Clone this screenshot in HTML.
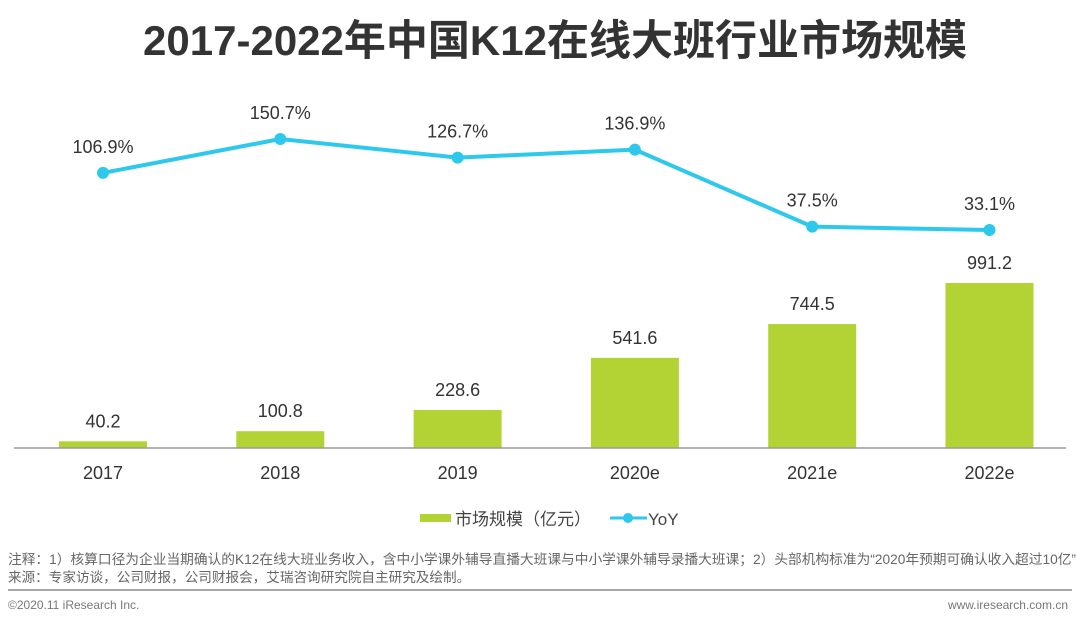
<!DOCTYPE html>
<html><head><meta charset="utf-8"><style>
body{margin:0;background:#fff;width:1080px;height:625px;overflow:hidden;font-family:"Liberation Sans","Noto Sans CJK SC",sans-serif}
</style></head><body>
<svg width="1080" height="625" xmlns="http://www.w3.org/2000/svg">
<text x="555" y="55" text-anchor="middle" font-size="42" font-weight="bold" fill="#333" font-family="Liberation Sans,Noto Sans CJK SC,sans-serif">2017-2022年中国K12在线大班行业市场规模</text>
<g id="bars"></g><g id="line"></g>
<line x1="14" y1="448" x2="1066" y2="448" stroke="#999" stroke-width="1.5"/>
<g>
<rect x="420" y="514" width="31" height="8" fill="#b3d334"/>
<text x="455" y="525" font-size="17" fill="#444" font-family="Liberation Sans,Noto Sans CJK SC,sans-serif">市场规模（亿元）</text>
<line x1="610" y1="518" x2="647" y2="518" stroke="#2ec8ec" stroke-width="3"/>
<circle cx="628" cy="518" r="5" fill="#2ec8ec"/>
<text x="648" y="525" font-size="17" fill="#444">YoY</text>
</g>
<text x="8" y="564" font-size="13.6" fill="#666" textLength="1068" lengthAdjust="spacingAndGlyphs" font-family="Liberation Sans,Noto Sans CJK SC,sans-serif">注释：1）核算口径为企业当期确认的K12在线大班业务收入，含中小学课外辅导直播大班课与中小学课外辅导录播大班课；2）头部机构标准为“2020年预期可确认收入超过10亿”</text>
<text x="8" y="582" font-size="13.6" fill="#666" font-family="Liberation Sans,Noto Sans CJK SC,sans-serif">来源：专家访谈，公司财报，公司财报会，艾瑞咨询研究院自主研究及绘制。</text>
<line x1="8" y1="590" x2="1072" y2="590" stroke="#888" stroke-width="1.5"/>
<text x="8" y="609" font-size="12" fill="#777">©2020.11 iResearch Inc.</text>
<text x="1068" y="609" font-size="12" fill="#777" text-anchor="end">www.iresearch.com.cn</text>
</svg>
<script>
const categories=["2017","2018","2019","2020e","2021e","2022e"];
const marketSize=[40.2,100.8,228.6,541.6,744.5,991.2];
const yoy=[106.9,150.7,126.7,136.9,37.5,33.1];
const sizeLabels=["40.2","100.8","228.6","541.6","744.5","991.2"];
const yoyLabels=["106.9%","150.7%","126.7%","136.9%","37.5%","33.1%"];
const NS="http://www.w3.org/2000/svg";
const xC=i=>103+i*177.3;
const yBar=v=>448-v*0.1665;
const yLine=v=>139+(150.7-v)*0.774;
function mk(t,a,p){const e=document.createElementNS(NS,t);for(const k in a)e.setAttribute(k,a[k]);p.appendChild(e);return e;}
const gb=document.getElementById('bars'),gl=document.getElementById('line');
categories.forEach((c,i)=>{
 const r=mk('rect',{x:xC(i)-44,y:yBar(marketSize[i]),width:88,height:448-yBar(marketSize[i]),fill:'#b3d334'},gb);
 
 
 const t=mk('text',{x:xC(i),y:yBar(marketSize[i])-14,'text-anchor':'middle','font-size':18,fill:'#333'},gb);t.textContent=sizeLabels[i];
 
 
 const x=mk('text',{x:xC(i),y:479,'text-anchor':'middle','font-size':18,fill:'#333'},gb);x.textContent=c;
 
 
});
const pl=mk('polyline',{points:yoy.map((v,i)=>xC(i)+','+yLine(v)).join(' '),fill:'none',stroke:'#2ec8ec','stroke-width':4},gl);


yoy.forEach((v,i)=>{
 const c=mk('circle',{cx:xC(i),cy:yLine(v),r:6,fill:'#2ec8ec'},gl);
 
 
 const t=mk('text',{x:xC(i),y:yLine(v)-20,'text-anchor':'middle','font-size':18,fill:'#333'},gl);t.textContent=yoyLabels[i];
 
 
});
</script>
</body></html>
